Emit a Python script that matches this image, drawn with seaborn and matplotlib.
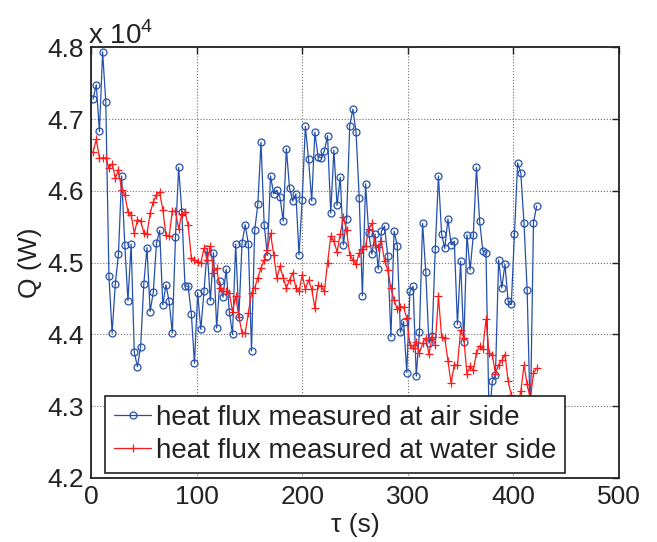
import matplotlib
matplotlib.use("Agg")
import matplotlib.pyplot as plt
import numpy as np
import pandas as pd
import seaborn as sns

# time axis (s): samples every 3 s
time_s = list(range(2, 425, 3))

# heat flux, in units of 10^4 W
q_air = [4.728, 4.748, 4.683, 4.794, 4.724, 4.481, 4.402, 4.470, 4.512, 4.621,
         4.525, 4.447, 4.526, 4.375, 4.355, 4.383, 4.470, 4.521, 4.432, 4.459,
         4.527, 4.545, 4.441, 4.469, 4.446, 4.402, 4.536, 4.633, 4.571, 4.468,
         4.467, 4.429, 4.360, 4.458, 4.407, 4.460, 4.519, 4.447, 4.514, 4.409,
         4.474, 4.452, 4.491, 4.431, 4.400, 4.526, 4.424, 4.527, 4.553, 4.526,
         4.377, 4.545, 4.582, 4.668, 4.553, 4.510, 4.621, 4.596, 4.601, 4.591,
         4.558, 4.659, 4.604, 4.586, 4.596, 4.511, 4.588, 4.690, 4.644, 4.586,
         4.682, 4.648, 4.646, 4.656, 4.677, 4.569, 4.657, 4.580, 4.619, 4.525,
         4.561, 4.691, 4.714, 4.682, 4.590, 4.454, 4.610, 4.541, 4.512, 4.540,
         4.491, 4.544, 4.551, 4.509, 4.397, 4.544, 4.524, 4.403, 4.418, 4.347,
         4.460, 4.467, 4.342, 4.403, 4.555, 4.487, 4.388, 4.398, 4.519, 4.621,
         4.540, 4.520, 4.561, 4.525, 4.530, 4.414, 4.502, 4.390, 4.539, 4.490,
         4.538, 4.633, 4.558, 4.517, 4.514, 4.280, 4.335, 4.344, 4.504, 4.465,
         4.498, 4.446, 4.442, 4.540, 4.639, 4.625, 4.555, 4.462, 4.280, 4.556,
         4.579]

q_water = [4.655, 4.672, 4.646, 4.646, 4.646, 4.632, 4.638, 4.618, 4.629, 4.602,
           4.595, 4.571, 4.567, 4.541, 4.560, 4.558, 4.542, 4.540, 4.569, 4.585,
           4.595, 4.598, 4.574, 4.538, 4.537, 4.572, 4.572, 4.547, 4.568, 4.571,
           4.552, 4.507, 4.504, 4.501, 4.500, 4.520, 4.504, 4.523, 4.486, 4.492,
           4.465, 4.460, 4.460, 4.458, 4.432, 4.453, 4.425, 4.402, 4.402, 4.430,
           4.458, 4.465, 4.479, 4.493, 4.504, 4.518, 4.541, 4.511, 4.479, 4.495,
           4.479, 4.465, 4.476, 4.486, 4.465, 4.460, 4.483, 4.463, 4.476, 4.463,
           4.437, 4.469, 4.467, 4.460, 4.500, 4.537, 4.530, 4.515, 4.540, 4.564,
           4.545, 4.511, 4.504, 4.498, 4.514, 4.519, 4.523, 4.547, 4.555, 4.525,
           4.522, 4.530, 4.502, 4.490, 4.465, 4.448, 4.435, 4.439, 4.438, 4.423,
           4.385, 4.381, 4.390, 4.374, 4.388, 4.395, 4.373, 4.397, 4.386, 4.453,
           4.397, 4.395, 4.363, 4.332, 4.358, 4.357, 4.406, 4.395, 4.345, 4.356,
           4.350, 4.374, 4.384, 4.380, 4.421, 4.374, 4.372, 4.345, 4.358, 4.364,
           4.372, 4.335, 4.316, 4.310, 4.300, 4.321, 4.357, 4.331, 4.310, 4.346,
           4.353]

labels = ["heat flux measured at air side", "heat flux measured at water side"]
x_ticks = [0, 100, 200, 300, 400, 500]
y_ticks = [4.2, 4.3, 4.4, 4.5, 4.6, 4.7, 4.8]

sns.set_style("white")
plt.rcParams["font.family"] = ["Liberation Sans", "DejaVu Sans"]
plt.rcParams["mathtext.fontset"] = "custom"
plt.rcParams["mathtext.rm"] = "Liberation Sans"

df = pd.DataFrame({"t": time_s, "air": q_air, "water": q_water})

blue = "#2450ac"
red = "#ff1a1a"
ink = "#222222"
fs = 19

fig = plt.figure(figsize=(6.57, 5.42), dpi=100)
ax = fig.add_axes([0.1385, 0.1181, 0.8037, 0.7943])

sns.lineplot(data=df, x="t", y="air", ax=ax, color=blue, linewidth=0.9,
             marker="o", markersize=5, markerfacecolor="none",
             markeredgecolor=blue, markeredgewidth=0.9, label=labels[0])
sns.lineplot(data=df, x="t", y="water", ax=ax, color=red, linewidth=0.9,
             marker="+", markersize=6, markeredgecolor=red,
             markeredgewidth=0.9, label=labels[1])

ax.set_xlim(0, 500)
ax.set_ylim(4.2, 4.8)
ax.set_xticks(x_ticks)
ax.set_xticklabels([str(v) for v in x_ticks])
ax.set_yticks(y_ticks)
ax.set_yticklabels([f"{v:.1f}" for v in y_ticks])
ax.grid(True, linestyle=":", color="#6e6e6e", linewidth=0.8)
ax.tick_params(direction="in", top=True, right=True, length=5, width=1,
               labelsize=fs, pad=5, colors=ink)
for sp in ax.spines.values():
    sp.set_color(ink)
    sp.set_linewidth(1.3)

ax.set_xlabel("τ (s)", fontsize=fs, labelpad=3, color=ink)
ax.set_ylabel("Q (W)", fontsize=fs, labelpad=4, color=ink)
ax.text(-0.006, 1.008, r"x 10$^{4}$", transform=ax.transAxes, fontsize=20,
        ha="left", va="baseline", color=ink)

leg = ax.legend(loc="lower left", bbox_to_anchor=(0.0265, 0.0116),
                borderaxespad=0, fancybox=False, edgecolor=ink,
                framealpha=1, fontsize=20, handlelength=1.35,
                handletextpad=0.15, labelspacing=0.25, borderpad=0.32)
leg.get_frame().set_linewidth(1.2)
for txt in leg.get_texts():
    txt.set_color(ink)

fig.savefig("out.png", dpi=100, facecolor="white")
